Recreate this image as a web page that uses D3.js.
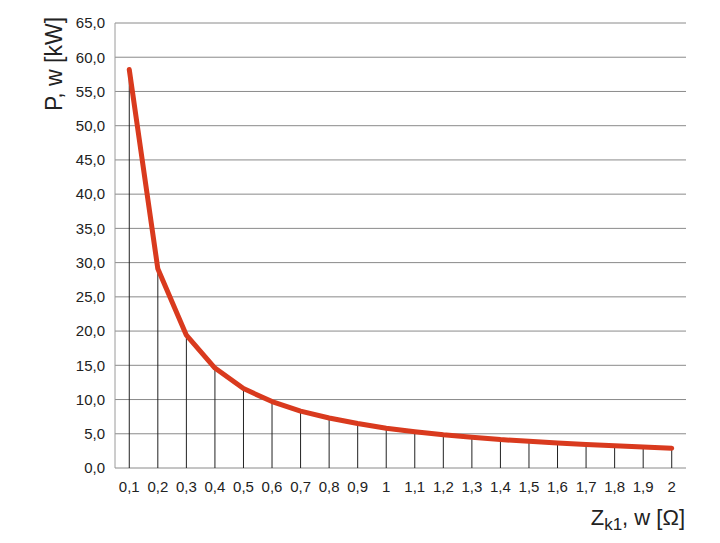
<!DOCTYPE html>
<html><head><meta charset="utf-8">
<script src="https://cdn.jsdelivr.net/npm/d3@7"></script>
<style>body{margin:0;background:#fff}svg{display:block}text{font-family:"Liberation Sans",Arial,sans-serif}</style>
</head><body>
<svg id="c" width="720" height="543"></svg>
<script>
const categories = ["0,1","0,2","0,3","0,4","0,5","0,6","0,7","0,8","0,9","1","1,1","1,2","1,3","1,4","1,5","1,6","1,7","1,8","1,9","2"];
const powerValues = [58.2,29.1,19.4,14.6,11.6,9.7,8.3,7.3,6.5,5.8,5.3,4.85,4.5,4.15,3.9,3.65,3.45,3.25,3.05,2.9];
const yTicks = [0,5,10,15,20,25,30,35,40,45,50,55,60,65];
const yTitle = "P, w [kW]";

const svg = d3.select("#c");
const L = 115, R = 686, T = 23, B = 468;
const x = d3.scaleBand().domain(categories).range([L, R]);
const y = d3.scaleLinear().domain([0, 65]).range([B, T]);
const fmt = v => v.toFixed(1).replace(".", ",");

// gridlines
svg.append("g").selectAll("line").data(yTicks).join("line")
  .attr("x1", L).attr("x2", R).attr("y1", d => y(d)).attr("y2", d => y(d))
  .attr("stroke", "#8a8a8a").attr("stroke-width", 1);
svg.append("line").attr("x1", L).attr("x2", L).attr("y1", T).attr("y2", B)
  .attr("stroke", "#9a9a9a").attr("stroke-width", 1);

// y axis labels
const ya = svg.append("g").attr("transform", `translate(${L},0)`)
  .call(d3.axisLeft(y).tickValues(yTicks).tickFormat(fmt).tickSize(0).tickPadding(10));
ya.select(".domain").remove();
ya.selectAll("text").attr("font-size", 15).attr("fill", "#222").attr("font-family", "Liberation Sans, Arial, sans-serif");

// x axis labels
const xa = svg.append("g").attr("transform", `translate(0,${B})`)
  .call(d3.axisBottom(x).tickSize(0).tickPadding(13));
xa.select(".domain").remove();
xa.selectAll("text").attr("font-size", 15).attr("fill", "#222").attr("font-family", "Liberation Sans, Arial, sans-serif");

// drop lines
const cx = c => x(c) + x.bandwidth() / 2;
svg.append("g").selectAll("line").data(categories).join("line")
  .attr("x1", c => cx(c)).attr("x2", c => cx(c))
  .attr("y1", (c, i) => y(powerValues[i])).attr("y2", B)
  .attr("stroke", "#222").attr("stroke-width", 1);

// curve
svg.append("path").datum(powerValues)
  .attr("d", d3.line().x((v, i) => cx(categories[i])).y(v => y(v)))
  .attr("fill", "none").attr("stroke", "#d93a1e").attr("stroke-width", 5)
  .attr("stroke-linejoin", "round").attr("stroke-linecap", "round");

// titles
svg.append("text").attr("transform", "translate(62,64) rotate(-90)")
  .attr("text-anchor", "middle").attr("font-size", 23).attr("fill", "#222").text(yTitle);

const xt = svg.append("text").attr("x", 685).attr("y", 525).attr("text-anchor", "end")
  .attr("font-size", 22).attr("fill", "#222");
xt.append("tspan").text("Z");
xt.append("tspan").attr("font-size", 17).attr("dy", 5).text("k1");
xt.append("tspan").attr("dy", -5).text(", w [Ω]");
</script>
</body></html>
